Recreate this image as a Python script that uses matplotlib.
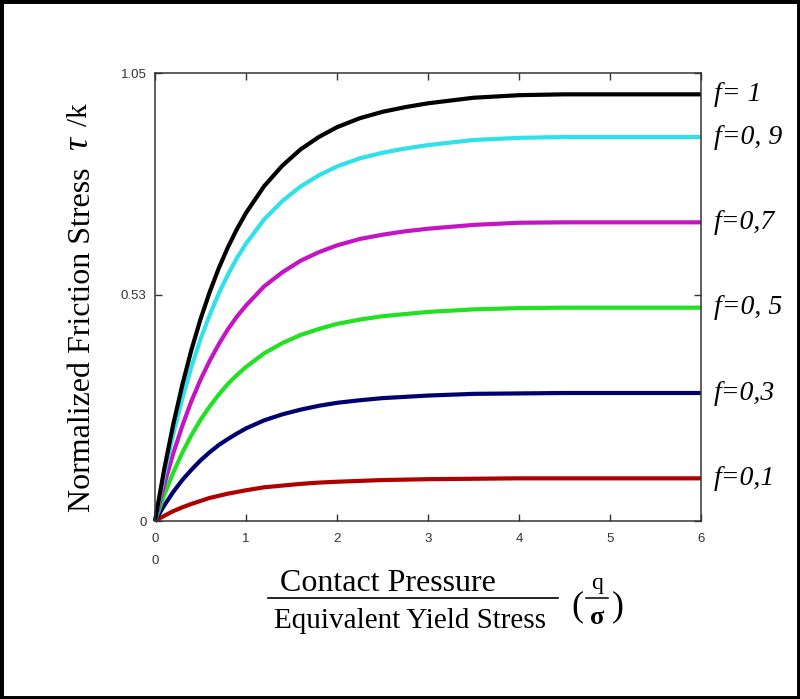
import matplotlib
matplotlib.use("Agg")
import matplotlib.pyplot as plt
from matplotlib.lines import Line2D
from matplotlib.patches import Rectangle

# contact pressure / equivalent yield stress
q_sigma = [0, 0.1, 0.2, 0.3, 0.4, 0.5, 0.6, 0.7, 0.8, 0.9, 1.0, 1.2, 1.4, 1.6, 1.8,
           2.0, 2.25, 2.5, 2.75, 3.0, 3.5, 4.0, 4.5, 5.0, 6.0]

# normalized friction stress tau/k
f_10 = [0, 0.120, 0.226, 0.319, 0.401, 0.473, 0.536, 0.592, 0.641, 0.684, 0.722, 0.785, 0.833,
        0.871, 0.900, 0.923, 0.944, 0.959, 0.970, 0.979, 0.992, 0.998, 1.0, 1.0, 1.0]
f_09 = [0, 0.108, 0.203, 0.287, 0.361, 0.426, 0.482, 0.533, 0.577, 0.616, 0.650, 0.707, 0.750,
        0.784, 0.810, 0.831, 0.850, 0.863, 0.873, 0.881, 0.893, 0.898, 0.9, 0.9, 0.9]
f_07 = [0, 0.084, 0.158, 0.223, 0.281, 0.331, 0.375, 0.414, 0.449, 0.479, 0.505, 0.550, 0.583,
        0.610, 0.630, 0.646, 0.661, 0.671, 0.679, 0.685, 0.694, 0.699, 0.7, 0.7, 0.7]
f_05 = [0, 0.060, 0.113, 0.160, 0.201, 0.237, 0.268, 0.296, 0.321, 0.342, 0.361, 0.393, 0.417,
        0.436, 0.450, 0.462, 0.472, 0.480, 0.485, 0.490, 0.496, 0.499, 0.5, 0.5, 0.5]
f_03 = [0, 0.036, 0.068, 0.096, 0.120, 0.142, 0.161, 0.178, 0.192, 0.205, 0.217, 0.236, 0.250,
        0.261, 0.270, 0.277, 0.283, 0.288, 0.291, 0.294, 0.298, 0.299, 0.3, 0.3, 0.3]
f_01 = [0, 0.012, 0.023, 0.032, 0.040, 0.047, 0.054, 0.059, 0.064, 0.068, 0.072, 0.079, 0.083,
        0.087, 0.090, 0.092, 0.094, 0.096, 0.097, 0.098, 0.099, 0.1, 0.1, 0.1, 0.1]

curve_labels = ["f=0,1", "f=0,3", "f=0, 5", "f=0,7", "f=0, 9", "f= 1"]
curve_colors = ["#B00000", "#000070", "#22E022", "#C414C4", "#30E0EA", "#000000"]
curves = [f_01, f_03, f_05, f_07, f_09, f_10]

x_ticks = [0, 1, 2, 3, 4, 5, 6]
y_ticks = [0, 0.53, 1.05]
y_tick_labels = ["0", "0.53", "1.05"]

W, H = 800, 699


def fx(px):
    return px / W


def fy(py):
    return 1 - py / H


fig = plt.figure(figsize=(W / 100, H / 100), dpi=100)
ax = fig.add_axes([fx(155), fy(521), 546 / W, 448 / H])

for vals, col, lab in zip(curves, curve_colors, curve_labels):
    ax.plot(q_sigma, vals, color=col, lw=3, solid_capstyle="butt", clip_on=False)
    ax.annotate(lab, xy=(q_sigma[-1], vals[-1]), xytext=(9, 0), textcoords="offset points",
                ha="left", va="center", fontsize=20, family="Liberation Serif",
                style="italic", annotation_clip=False)

ax.set_xlim(0, 6)
ax.set_ylim(0, 1.05)
ax.set_xticks(x_ticks)
ax.set_yticks(y_ticks)
ax.set_yticklabels(y_tick_labels)
ax.tick_params(direction="in", length=5, width=1, color="#333333",
               top=True, right=True, labeltop=False, labelright=False,
               labelsize=9.5, labelcolor="#333333", pad=6)
ax.tick_params(axis="x", pad=9)
for lbl in ax.get_xticklabels() + ax.get_yticklabels():
    lbl.set_family("Liberation Sans")
for sp in ax.spines.values():
    sp.set_color("#333333")
    sp.set_linewidth(1.1)

# stray zero under the origin
fig.text(fx(155), fy(561), "0", ha="center", va="center", fontsize=9.5,
         family="Liberation Sans", color="#333333")

# y label
fig.text(fx(82), fy(512), "Normalized Friction Stress", rotation=90, rotation_mode="anchor",
         ha="left", va="center", fontsize=23, family="Liberation Serif")
fig.text(fx(79), fy(150), "τ", rotation=90, rotation_mode="anchor",
         ha="left", va="center", fontsize=26, family="Liberation Serif", style="italic")
fig.text(fx(80), fy(126), "/k", rotation=90, rotation_mode="anchor",
         ha="left", va="center", fontsize=21, family="Liberation Serif")

# x label as a fraction
fig.text(fx(388), fy(591), "Contact Pressure", ha="center", va="baseline",
         fontsize=23, family="Liberation Serif")
fig.add_artist(Line2D([fx(268), fx(558)], [fy(598), fy(598)], color="black", lw=1.2))
fig.text(fx(410), fy(628), "Equivalent Yield Stress", ha="center", va="baseline",
         fontsize=21, family="Liberation Serif")
fig.text(fx(577), fy(607), "(", ha="center", va="center", fontsize=26, family="Liberation Serif")
fig.text(fx(618), fy(607), ")", ha="center", va="center", fontsize=26, family="Liberation Serif")
fig.text(fx(597), fy(589), "q", ha="center", va="baseline", fontsize=17, family="Liberation Serif")
fig.add_artist(Line2D([fx(586), fx(608)], [fy(598), fy(598)], color="black", lw=1.1))
fig.text(fx(597), fy(624), "σ", ha="center", va="baseline", fontsize=19,
         family="Liberation Serif", weight="bold")

# frame around the whole picture
fig.add_artist(Rectangle((0, 0), 1, 1, transform=fig.transFigure, fill=False,
                         edgecolor="black", lw=5))

fig.savefig("out.png", dpi=100)
